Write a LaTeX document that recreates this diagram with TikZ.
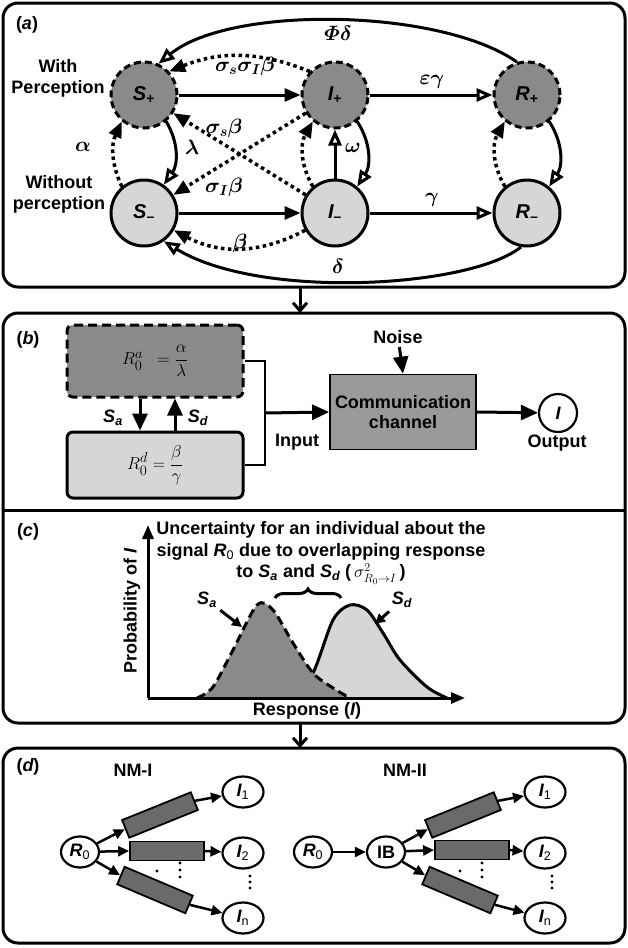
\documentclass[tikz,border=0pt]{standalone}
\usepackage{amsmath}
\usepackage{fontspec}
\setmainfont{Liberation Sans}
\usetikzlibrary{arrows.meta,shapes.geometric,decorations.pathreplacing,calc}
\definecolor{dk}{HTML}{8A8A8A}
\definecolor{lt}{HTML}{D6D6D6}
\definecolor{cmg}{HTML}{9A9A9A}
\definecolor{chg}{HTML}{6A6A6A}
\newcommand\nlab[2]{{\itshape #1}\textsubscript{#2}}
\begin{document}
\begin{tikzpicture}[x=1pt,y=-1pt,
  every node/.style={font=\fontsize{18}{21}\selectfont\bfseries},
  panel/.style={draw, line width=3pt, rounded corners=15pt},
  dkc/.style={circle, draw, fill=dk, line width=3pt, dash pattern=on 7pt off 4pt, minimum size=66pt, inner sep=0pt, font=\fontsize{20}{22}\selectfont\bfseries},
  ltc/.style={circle, draw, fill=lt, line width=3pt, minimum size=66pt, inner sep=0pt, font=\fontsize{20}{22}\selectfont\bfseries},
  fa/.style={line width=3pt, -{Triangle[length=16pt,width=13pt]}},
  fab/.style={line width=3pt, -{Triangle[length=17pt,width=15pt]}},
  oa/.style={line width=3pt, -{Triangle[open,length=16pt,width=13pt,fill=white]}},
  dotl/.style={line width=3.5pt, dash pattern=on 3.5pt off 3.5pt},
  fd/.style={dotl, -{Triangle[length=16pt,width=13pt]}},
  gl/.style={font=\fontsize{21}{22}\selectfont\boldmath},
  pdown/.style={line width=3pt, -{Straight Barb[length=8pt,width=14pt]}},
  ell/.style={ellipse, draw, line width=2.2pt, minimum width=41pt, minimum height=31pt, inner sep=0pt, font=\fontsize{18}{18}\selectfont\bfseries},
  chan/.style={rectangle, draw, fill=chg, line width=1.8pt, minimum width=74pt, minimum height=19pt, inner sep=0pt},
  fd2/.style={line width=2.5pt, -{Triangle[length=11pt,width=10pt]}}
]
\useasboundingbox (0,0) rectangle (628,948);
% ---------------- panel frames
\draw[panel] (3,3) rectangle (625,287);
\draw[panel] (3,313) rectangle (625,723);
\draw[line width=3pt] (3,510) -- (625,510);
\draw[panel] (3,748) rectangle (625,943);
\coordinate (aB) at (300,287);
\coordinate (bT) at (300,313);
\coordinate (cB) at (300,723);
\coordinate (dT) at (300,748);
\draw[pdown] (aB) -- (bT);
\draw[pdown] (cB) -- (dT);

% ---------------- panel (a)
\node (la) at (27,25) {({\itshape a})};
\node[align=center] (wp) at (58,78) {With\\Perception};
\node[align=center] (wop) at (59,194) {Without\\perception};

\node[dkc] (Sp) at (144,95) {\nlab{S}{+}};
\node[ltc] (Sm) at (144,213) {\nlab{S}{--}};
\node[dkc] (Ip) at (335,95) {\nlab{I}{+}};
\node[ltc] (Im) at (335,213) {\nlab{I}{--}};
\node[dkc] (Rp) at (527,95) {\nlab{R}{+}};
\node[ltc] (Rm) at (527,213) {\nlab{R}{--}};

\draw[fa] (Sp) -- (Ip);
\draw[fa] (Sm) -- (Im);
\draw[oa] (Ip) -- (Rp);
\draw[oa] (Im) -- (Rm);
\draw[oa] (Im) -- (Ip);
\draw[oa] (Ip.-50) to[bend left=33] (Im.50);
\draw[fd] (Im.130) to[bend left=30] (Ip.-130);
\draw[oa] (Rp.-50) to[bend left=33] (Rm.50);
\draw[fd] (Rm.130) to[bend left=30] (Rp.-130);
\draw[oa] (Sp.-50) to[bend left=33] (Sm.55);
\draw[fd] (Sm.130) to[bend left=25] (Sp.-130);
\draw[fd] (Ip.137) to[bend right=22] (Sp.43);
\draw[fd] (Im) -- (Sp);
\draw[fd] (Ip) -- (Sm);
\draw[fd] (Im.-150) to[bend left=28] (Sm.-30);
\draw[oa] (Rp.107) .. controls (440,8) and (230,5) .. (Sp.65);
\draw[oa] (Rm.-100) .. controls (470,288) and (260,300) .. (Sm.-55);

\node[gl] (lsss) at (245,66) {$\sigma_s\sigma_I\beta$};
\node[gl] (lsb) at (224,128) {$\sigma_s\beta$};
\node[gl] (lib) at (224,187) {$\sigma_I\beta$};
\node[gl] (lbe) at (240,243) {$\beta$};
\node[gl] (lal) at (83,147) {$\alpha$};
\node[gl] (lla) at (192,147) {$\lambda$};
\node[gl] (lom) at (353,148) {$\omega$};
\node[gl] (leg) at (432,82) {$\varepsilon\gamma$};
\node[gl] (lga) at (432,200) {$\gamma$};
\node[gl] (lpd) at (338,33) {$\varPhi\delta$};
\node[gl] (lde) at (338,266) {$\delta$};

% ---------------- panel (b)
\node (lb) at (28,340) {({\itshape b})};
\node[draw, fill=dk, line width=3pt, dash pattern=on 9pt off 5pt, rounded corners=6pt,
      minimum width=176pt, minimum height=72pt, font=\fontsize{19}{21}\selectfont] (Ra) at (155,361) {$R_0^{a}\;\;=\dfrac{\alpha}{\lambda}$};
\node[draw, fill=lt, line width=3pt, rounded corners=6pt,
      minimum width=176pt, minimum height=66pt, font=\fontsize{19}{21}\selectfont] (Rd) at (155,465) {$R_0^{d}=\dfrac{\beta}{\gamma}$};
\draw[fab] ([xshift=-15pt]Ra.south) -- ([xshift=-15pt]Rd.north);
\draw[fab] ([xshift=20pt]Rd.north) -- ([xshift=20pt]Ra.south);
\node (lsa) at (113,418) {\nlab{S}{\itshape a}};
\node (lsd) at (198,418) {\nlab{S}{\itshape d}};
\coordinate (jn) at (265,413);
\draw[line width=2pt] (Ra.east) -| (jn) |- (Rd.east);
\node[draw, fill=cmg, line width=1.8pt, minimum width=146pt, minimum height=75pt, align=center,
      font=\fontsize{18}{20}\selectfont\bfseries] (Cc) at (403,412) {Communication\\channel};
\draw[fab] (jn) -- (Cc.west);
\node (inp) at (297,442) {Input};
\node (noi) at (398,337) {Noise};
\draw[fab] (noi) -- (Cc.north);
\node[circle, draw, line width=2.2pt, minimum size=38pt, inner sep=0pt] (Io) at (558,413) {\itshape I};
\draw[fab] (Cc.east) -- (Io);
\node (outp) at (557,443) {Output};

% ---------------- panel (c)
\node (lc) at (28,532) {({\itshape c})};
\coordinate (org) at (148,698);
\coordinate (yend) at (148,525);
\coordinate (xend) at (465,698);
\fill[lt] plot[smooth] coordinates {(292,698) (313,673) (333,620) (350,605) (367,610) (383,633) (400,660) (427,687) (447,698)} -- cycle;
\draw[line width=3pt] plot[smooth] coordinates {(292,698) (313,673) (333,620) (350,605) (367,610) (383,633) (400,660) (427,687) (447,698)};
\fill[dk] plot[smooth] coordinates {(197,698) (213,687) (233,650) (257,605) (273,610) (293,643) (313,673) (333,688) (350,698)} -- cycle;
\draw[line width=3pt, dash pattern=on 9pt off 5pt] plot[smooth] coordinates {(197,698) (213,687) (233,650) (257,605) (273,610) (293,643) (313,673) (333,688) (350,698)};
\draw[line width=3pt, -{Triangle[length=14pt,width=11pt]}] (org) -- (yend);
\draw[line width=3pt, -{Triangle[length=14pt,width=11pt]}] (org) -- (xend);
\node[align=center, font=\fontsize{18}{21.5}\selectfont\bfseries] (hd) at (321,553)
  {Uncertainty for an individual about the\\
   signal {\itshape R}\textsubscript{\mdseries 0} due to overlapping response\\
   to \nlab{S}{\itshape a} and \nlab{S}{\itshape d} (\,$\sigma^2_{R_0\to I}$\,)};
\draw[line width=3pt, decorate, decoration={brace, amplitude=9pt}] (275,598) -- (341,598);
\node (lsa2) at (207,600) {\nlab{S}{\itshape a}};
\coordinate (pa) at (242,627);
\draw[line width=3pt, -{Triangle[length=10pt,width=10pt]}] (lsa2) -- (pa);
\node (lsd2) at (402,600) {\nlab{S}{\itshape d}};
\coordinate (pd) at (375,624);
\draw[line width=3pt, -{Triangle[length=10pt,width=10pt]}] (lsd2) -- (pd);
\node[rotate=90] (py) at (132,611) {Probability of {\itshape I}};
\node (px) at (307,711) {Response ({\itshape I})};

% ---------------- panel (d)
\node (ld) at (28,767) {({\itshape d})};
\node (nm1) at (133,770) {NM-I};
\node (nm2) at (405,770) {NM-II};

\node[ell, minimum width=38pt] (R0a) at (80,852) {{\itshape R}\textsubscript{\mdseries 0}};
\node[ell] (I1a) at (243,792) {{\itshape I}\textsubscript{\mdseries 1}};
\node[ell] (I2a) at (243,853) {{\itshape I}\textsubscript{\mdseries 2}};
\node[ell] (Ina) at (243,918) {{\itshape I}\textsubscript{\mdseries n}};
\node[chan, rotate=22] (c1a) at (160,815) {};
\node[chan] (c2a) at (167,851) {};
\node[chan, rotate=-23] (c3a) at (155,890) {};
\draw[fd2] (R0a) -- (c1a.west);
\draw[fd2] (c1a.east) -- (I1a);
\draw[fd2] (R0a) -- (c2a.west);
\draw[fd2] (c2a.east) -- (I2a);
\draw[fd2] (R0a) -- (c3a.west);
\draw[fd2] (c3a.east) -- (Ina);
\fill (157,871) circle[radius=1.7pt];
\foreach \yy in {863,870,877} \fill (180,\yy) circle[radius=1.7pt];
\foreach \yy in {876,882,888} \fill (250,\yy) circle[radius=1.7pt];

\node[ell, minimum width=38pt] (R0b) at (313,852) {{\itshape R}\textsubscript{\mdseries 0}};
\node[ell, minimum width=38pt] (IBb) at (386,852) {IB};
\node[ell] (I1b) at (545,792) {{\itshape I}\textsubscript{\mdseries 1}};
\node[ell] (I2b) at (545,853) {{\itshape I}\textsubscript{\mdseries 2}};
\node[ell] (Inb) at (545,918) {{\itshape I}\textsubscript{\mdseries n}};
\node[chan, rotate=22] (c1b) at (463,815) {};
\node[chan] (c2b) at (472,850) {};
\node[chan, rotate=-23] (c3b) at (460,890) {};
\draw[fd2] (R0b) -- (IBb);
\draw[fd2] (IBb) -- (c1b.west);
\draw[fd2] (c1b.east) -- (I1b);
\draw[fd2] (IBb) -- (c2b.west);
\draw[fd2] (c2b.east) -- (I2b);
\draw[fd2] (IBb) -- (c3b.west);
\draw[fd2] (c3b.east) -- (Inb);
\fill (460,871) circle[radius=1.7pt];
\foreach \yy in {863,870,877} \fill (482,\yy) circle[radius=1.7pt];
\foreach \yy in {876,882,888} \fill (552,\yy) circle[radius=1.7pt];
\end{tikzpicture}
\end{document}
